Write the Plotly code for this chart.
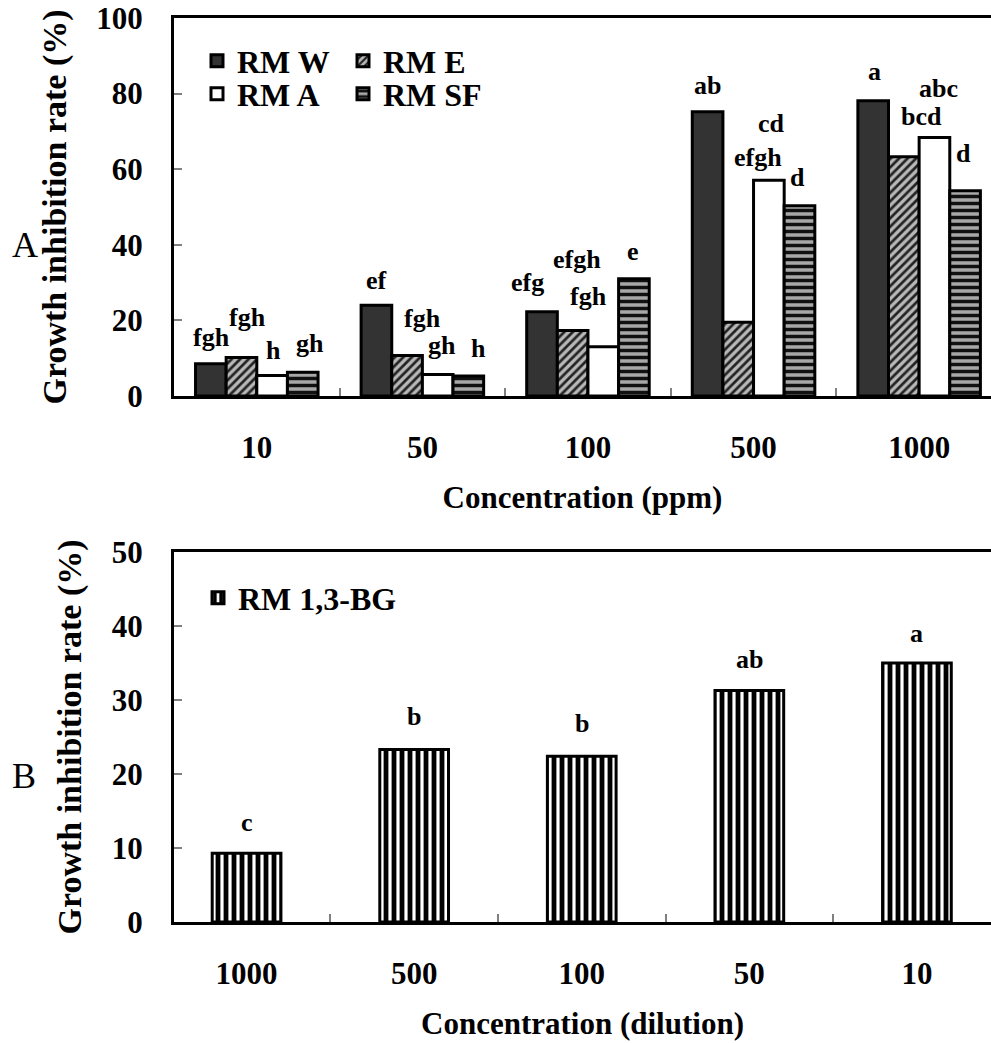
import plotly.graph_objects as go

# ---------------- data ----------------
conc_ppm = ["10", "50", "100", "500", "1000"]
rm_w = [8.5, 24.0, 22.3, 75.2, 78.1]
rm_e = [10.2, 10.7, 17.3, 19.5, 63.3]
rm_a = [5.4, 5.7, 13.0, 57.1, 68.4]
rm_sf = [6.3, 5.3, 31.0, 50.3, 54.3]
lab_w = ["fgh", "ef", "efg", "ab", "a"]
lab_e = ["fgh", "fgh", "efgh", "efgh", "bcd"]
lab_a = ["h", "gh", "fgh", "cd", "abc"]
lab_sf = ["gh", "h", "e", "d", "d"]

conc_dil = ["1000", "500", "100", "50", "10"]
rm_bg = [9.3, 23.3, 22.4, 31.3, 35.0]
lab_bg = ["c", "b", "b", "ab", "a"]

# ---------------- label placement tweaks (px) ----------------
dx_A = [[1, 0, -15, 0, 1], [6, 15, 4, 20, 18], [1, 4, -15, 3, 4], [7, 10, -1, -2, -2]]
dy_A = [[26, 25, 29, 26, 29], [40, 37, 71, 165, 40], [25, 29, 50, 57, 49], [29, 27, 27, 28, 37]]
dy_B = [31, 33, 33, 31, 30]

W, H = 991, 1043
ML = 174
PW = W - ML
FONT = "Liberation Serif"
BGAP_A = 0.26

fig = go.Figure()

series = [
    ("RM W", rm_w, lab_w, dict(color="#333333")),
    ("RM E", rm_e, lab_e, dict(color="#b8b8b8",
                               pattern=dict(shape="/", fgcolor="#222222", bgcolor="#b8b8b8",
                                            size=6, solidity=0.45, fillmode="replace"))),
    ("RM A", rm_a, lab_a, dict(color="white")),
    ("RM SF", rm_sf, lab_sf, dict(color="#a8a8a8",
                                  pattern=dict(shape="-", fgcolor="#111111", bgcolor="#a8a8a8",
                                               size=7, solidity=0.5, fillmode="replace"))),
]
legend_ids = ["legend", "legend2", "legend3", "legend4"]
for (name, vals, labs, mk), lg in zip(series, legend_ids):
    mk = dict(mk)
    mk["line"] = dict(color="black", width=3)
    fig.add_trace(go.Bar(x=conc_ppm, y=vals, name=name, marker=mk,
                         xaxis="x", yaxis="y", legend=lg))

fig.add_trace(go.Bar(x=conc_dil, y=rm_bg, name="RM 1,3-BG",
                     marker=dict(color="white", line=dict(color="black", width=3),
                                 pattern=dict(shape="|", fgcolor="black", bgcolor="white",
                                              size=8, solidity=0.6, fillmode="replace")),
                     xaxis="x2", yaxis="y2", width=0.41, legend="legend5"))

# letters above bars
ann = []
bw = (1 - BGAP_A) / 4
for j, (name, vals, labs, mk) in enumerate(series):
    for i, (v, t) in enumerate(zip(vals, labs)):
        ann.append(dict(x=i + (j - 1.5) * bw, y=v, xref="x", yref="y", text=t,
                        showarrow=False, xshift=dx_A[j][i], yshift=dy_A[j][i],
                        yanchor="middle", xanchor="center",
                        font=dict(family=FONT, size=26, color="black", weight="bold")))
for i, (v, t) in enumerate(zip(rm_bg, lab_bg)):
    ann.append(dict(x=i, y=v, xref="x2", yref="y2", text=t, showarrow=False,
                    yshift=dy_B[i], yanchor="middle", xanchor="center",
                    font=dict(family=FONT, size=26, color="black", weight="bold")))

def px_x(px):
    return (px - ML) / PW

def px_y(py):
    return 1 - py / H

# panel letters
ann.append(dict(x=px_x(25), y=px_y(245), xref="paper", yref="paper", text="A", showarrow=False,
                xanchor="center", yanchor="middle", font=dict(family=FONT, size=36, color="black")))
ann.append(dict(x=px_x(24), y=px_y(776), xref="paper", yref="paper", text="B", showarrow=False,
                xanchor="center", yanchor="middle", font=dict(family=FONT, size=36, color="black")))

tickfont = dict(family=FONT, size=31, color="black", weight="bold")
xtitlefont = dict(family=FONT, size=31, color="black", weight="bold")
ytitlefont = dict(family=FONT, size=34, color="black", weight="bold")

xaxis_common = dict(type="category", showline=True, linecolor="black", linewidth=3,
                    ticks="inside", tickson="boundaries", ticklen=8, tickcolor="#808080",
                    tickwidth=1.5, showgrid=False, zeroline=False, tickfont=tickfont,
                    ticklabelstandoff=22, automargin=False, mirror=True)
yaxis_common = dict(showline=True, linecolor="black", linewidth=3, ticks="inside",
                    ticklen=8, tickcolor="#808080", tickwidth=1.5, showgrid=False,
                    zeroline=False, tickfont=tickfont, ticklabelstandoff=22,
                    automargin=False)

legend_base = dict(xanchor="left", yanchor="middle",
                   bgcolor="rgba(0,0,0,0)", borderwidth=0,
                   font=dict(family=FONT, size=32, color="black", weight="bold"))

def lg(x, y):
    d = dict(legend_base)
    d.update(x=px_x(x), y=px_y(y))
    return d

fig.update_layout(
    width=W, height=H,
    margin=dict(l=ML, r=0, t=0, b=0, autoexpand=False),
    paper_bgcolor="white", plot_bgcolor="white",
    barmode="group", bargap=BGAP_A, bargroupgap=0,
    showlegend=True,
    xaxis=dict(xaxis_common, domain=[0, 1], anchor="y", range=[-0.5, 4.434],
               title=dict(text="Concentration (ppm)", font=xtitlefont, standoff=23)),
    yaxis=dict(yaxis_common, domain=[1 - 396 / H, 1 - 18 / H], anchor="x", range=[0, 100],
               dtick=20, title=dict(text="Growth inhibition rate (%)", font=ytitlefont, standoff=20)),
    xaxis2=dict(xaxis_common, domain=[0, 1], anchor="y2", range=[-0.433, 4.442],
                title=dict(text="Concentration (dilution)", font=xtitlefont, standoff=23)),
    yaxis2=dict(yaxis_common, domain=[1 - 922 / H, 1 - 552 / H], anchor="x2", range=[0, 50],
                dtick=10, title=dict(text="Growth inhibition rate (%)", font=ytitlefont, standoff=20)),
    legend=lg(197, 61),
    legend2=lg(343, 61),
    legend3=lg(197, 94),
    legend4=lg(343, 94),
    legend5=lg(198, 598),
    annotations=ann,
)

fig.write_html("out.html", config={"displayModeBar": False},
               post_script="document.body.style.margin='0';document.body.style.overflow='hidden';")
